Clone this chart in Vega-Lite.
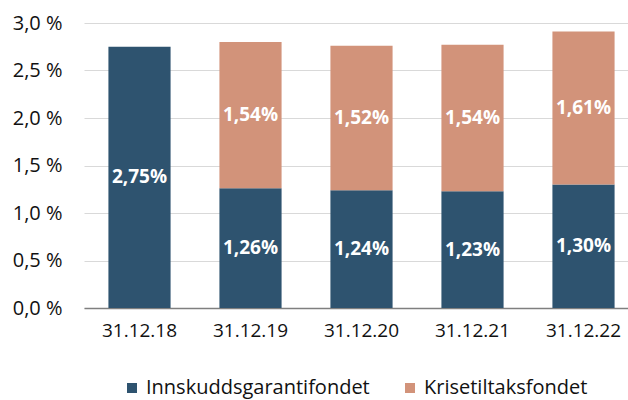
{
  "$schema": "https://vega.github.io/schema/vega-lite/v6.json",
  "width": 544,
  "height": 285,
  "autosize": {"type": "none"},
  "padding": {"left": 84, "top": 23, "right": 0, "bottom": 92},
  "background": "white",
  "config": {
    "view": {"stroke": null},
    "font": "Open Sans"
  },
  "data": {
    "values": [
      {"date": "31.12.18", "series": "Innskuddsgarantifondet", "order": 1, "value": 2.75},
      {"date": "31.12.19", "series": "Innskuddsgarantifondet", "order": 1, "value": 1.26},
      {"date": "31.12.19", "series": "Krisetiltaksfondet", "order": 2, "value": 1.54},
      {"date": "31.12.20", "series": "Innskuddsgarantifondet", "order": 1, "value": 1.24},
      {"date": "31.12.20", "series": "Krisetiltaksfondet", "order": 2, "value": 1.52},
      {"date": "31.12.21", "series": "Innskuddsgarantifondet", "order": 1, "value": 1.23},
      {"date": "31.12.21", "series": "Krisetiltaksfondet", "order": 2, "value": 1.54},
      {"date": "31.12.22", "series": "Innskuddsgarantifondet", "order": 1, "value": 1.30},
      {"date": "31.12.22", "series": "Krisetiltaksfondet", "order": 2, "value": 1.61}
    ]
  },
  "transform": [
    {"stack": "value", "groupby": ["date"], "sort": [{"field": "order", "order": "ascending"}], "as": ["v0", "v1"]},
    {"calculate": "(datum.v0 + datum.v1) / 2", "as": "mid"},
    {"calculate": "replace(format(datum.value, '.2f'), '.', ',') + '%'", "as": "lab"}
  ],
  "encoding": {
    "x": {
      "field": "date",
      "type": "nominal",
      "title": null,
      "scale": {"range": [0, 555], "paddingInner": 0.44, "paddingOuter": 0.22},
      "axis": {
        "labelAngle": 0,
        "labelFontSize": 19,
        "labelColor": "#111111",
        "labelPadding": 13,
        "ticks": false,
        "domainColor": "#7f7f7f",
        "domainWidth": 1.5,
        "grid": false
      }
    }
  },
  "layer": [
    {
      "mark": {"type": "bar"},
      "encoding": {
        "y": {
          "field": "v0",
          "type": "quantitative",
          "title": null,
          "scale": {"domain": [0, 3.0], "nice": false},
          "axis": {
            "values": [0, 0.5, 1, 1.5, 2, 2.5, 3],
            "labelExpr": "replace(format(datum.value, '.1f'), '.', ',') + ' %'",
            "labelFontSize": 20,
            "labelColor": "#111111",
            "labelPadding": 22,
            "ticks": false,
            "domain": false,
            "gridColor": "#d9d9d9",
            "gridWidth": 1
          }
        },
        "y2": {"field": "v1"},
        "color": {
          "field": "series",
          "type": "nominal",
          "scale": {
            "domain": ["Innskuddsgarantifondet", "Krisetiltaksfondet"],
            "range": ["#2e536f", "#d2937a"]
          },
          "legend": {
            "title": null,
            "orient": "none",
            "direction": "horizontal",
            "legendX": 38,
            "legendY": 355,
            "symbolType": "square",
            "symbolSize": 100,
            "symbolStrokeWidth": 0,
            "labelFontSize": 20,
            "labelLimit": 0,
            "labelColor": "#111111",
            "labelOffset": 4,
            "columnPadding": 30,
            "padding": 0
          }
        }
      }
    },
    {
      "mark": {"type": "text", "color": "white", "fontWeight": "bold", "fontSize": 19, "baseline": "middle"},
      "encoding": {
        "y": {"field": "mid", "type": "quantitative"},
        "text": {"field": "lab"}
      }
    }
  ]
}
